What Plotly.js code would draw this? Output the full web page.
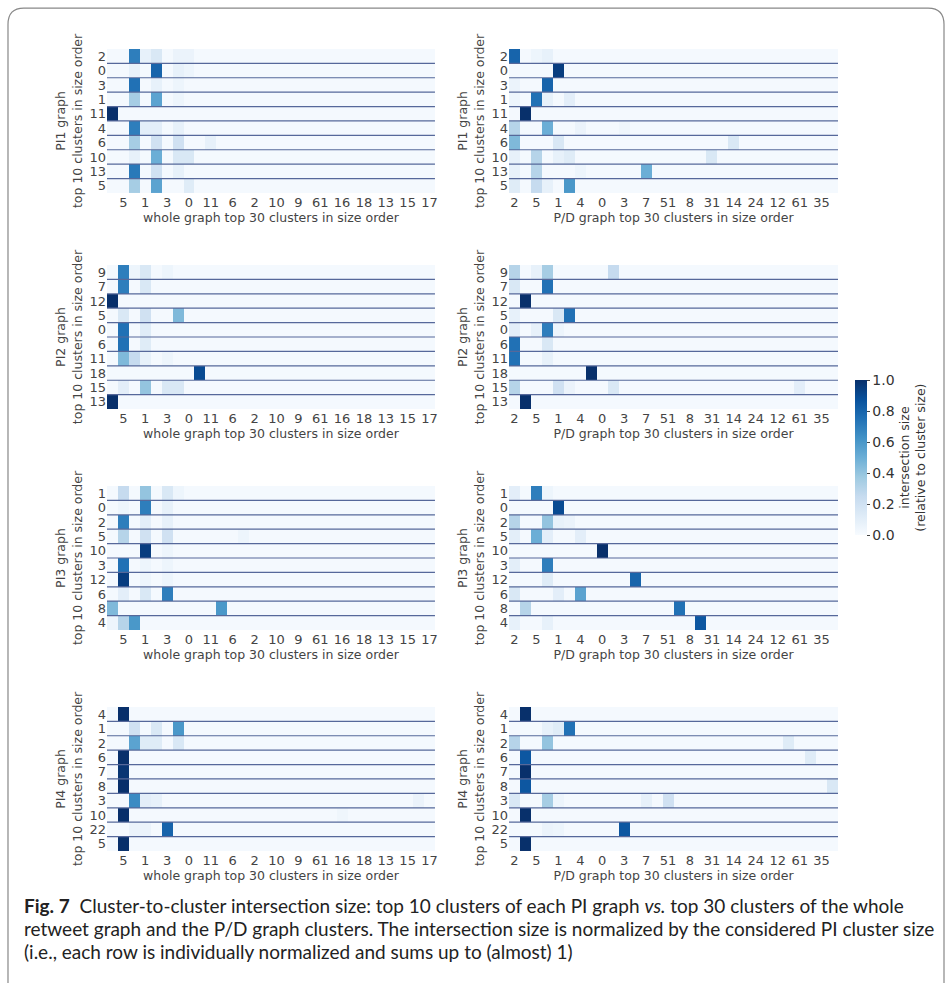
<!DOCTYPE html>
<html>
<head>
<meta charset="utf-8">
<script src="https://cdn.plot.ly/plotly-3.0.1.min.js"></script>
<style>body{margin:0;background:#fff}#fig{width:952px;height:983px}</style>
</head>
<body>
<div id="fig"></div>
<script>
// ── data ────────────────────────────────────────────────────────────────
// column labels (only every other one shown, as in the figure)
const wholeTicks = ['5','1','3','0','11','6','2','10','9','61','16','18','13','15','17'];
const pdTicks    = ['2','5','1','4','0','3','7','51','8','31','14','24','12','61','35'];

const pi1Rows = ['2','0','3','1','11','4','6','10','13','5'];
const pi2Rows = ['9','7','12','5','0','6','11','18','15','13'];
const pi3Rows = ['1','0','2','5','10','3','12','6','8','4'];
const pi4Rows = ['4','1','2','6','7','8','3','10','22','5'];

// each row: [column, value] pairs; other cells are a faint background
const pi1Whole = [
  [[2,.7],[3,.08],[4,.15],[6,.06],[7,.06]],
  [[2,.08],[4,.8],[6,.08],[7,.05]],
  [[2,.75],[4,.08],[6,.05]],
  [[2,.35],[4,.55],[6,.05]],
  [[0,1.0]],
  [[2,.7],[3,.1],[4,.1],[6,.08]],
  [[2,.35],[4,.2],[6,.2],[9,.08]],
  [[2,.08],[4,.5],[6,.15],[7,.15]],
  [[2,.72],[4,.2],[6,.08]],
  [[2,.35],[4,.55],[7,.12]]
];
const pi1PD = [
  [[0,.8],[2,.05],[3,.08]],
  [[4,.95]],
  [[0,.06],[3,.8]],
  [[0,.05],[2,.75],[3,.08],[5,.1]],
  [[1,1.0]],
  [[0,.3],[3,.5],[6,.06],[10,.04]],
  [[0,.45],[4,.15],[20,.15]],
  [[0,.08],[2,.3],[4,.08],[5,.12],[18,.15]],
  [[0,.08],[2,.3],[6,.05],[12,.5]],
  [[0,.12],[2,.25],[3,.08],[5,.6]]
];
const pi2Whole = [
  [[1,.7],[2,.05],[3,.15],[5,.05]],
  [[1,.7],[3,.15]],
  [[0,1.0]],
  [[1,.15],[3,.2],[6,.45]],
  [[1,.75],[3,.12]],
  [[1,.75],[3,.12]],
  [[1,.45],[2,.25],[3,.08],[5,.05]],
  [[8,.9]],
  [[1,.1],[3,.4],[5,.15],[6,.15]],
  [[0,1.0]]
];
const pi2PD = [
  [[0,.3],[2,.08],[3,.35],[9,.25]],
  [[0,.15],[3,.75]],
  [[1,1.0]],
  [[0,.08],[4,.15],[5,.75]],
  [[0,.1],[2,.08],[3,.7],[4,.05]],
  [[0,.75],[3,.15]],
  [[0,.75],[3,.08]],
  [[7,1.0]],
  [[0,.3],[4,.2],[5,.06],[9,.15],[26,.1]],
  [[1,1.0]]
];
const pi3Whole = [
  [[1,.25],[3,.4],[5,.15],[6,.05]],
  [[1,.05],[3,.7],[5,.08]],
  [[1,.7],[3,.1],[5,.08]],
  [[1,.3],[3,.2],[5,.2],[12,.05]],
  [[3,.95],[5,.05]],
  [[1,.75],[3,.05],[5,.05]],
  [[1,.95],[3,.05],[5,.05]],
  [[1,.1],[3,.15],[5,.7]],
  [[0,.45],[10,.6]],
  [[0,.05],[1,.3],[2,.6]]
];
const pi3PD = [
  [[0,.1],[2,.7],[3,.05]],
  [[4,.9]],
  [[0,.3],[3,.4],[4,.08],[5,.06]],
  [[0,.1],[2,.5],[3,.1],[6,.1]],
  [[8,1.0]],
  [[0,.1],[3,.7]],
  [[3,.12],[11,.8]],
  [[0,.15],[4,.1],[6,.55]],
  [[1,.3],[15,.75]],
  [[0,.08],[3,.08],[17,.85]]
];
const pi4Whole = [
  [[1,1.0]],
  [[2,.2],[4,.15],[6,.6]],
  [[2,.55],[3,.12],[4,.12],[6,.15]],
  [[1,1.0]],
  [[1,.98]],
  [[1,1.0]],
  [[2,.65],[3,.1],[4,.08],[28,.06]],
  [[1,1.0],[21,.04]],
  [[2,.06],[3,.06],[5,.8]],
  [[1,1.0]]
];
const pi4PD = [
  [[1,1.0]],
  [[3,.08],[4,.12],[5,.75]],
  [[0,.3],[3,.4],[25,.12]],
  [[1,.85],[27,.12]],
  [[1,1.0]],
  [[1,.85],[29,.15]],
  [[0,.15],[3,.35],[4,.05],[12,.08],[14,.2]],
  [[1,1.0]],
  [[3,.06],[4,.05],[10,.85]],
  [[1,1.0]]
];

// ── build figure ────────────────────────────────────────────────────────
const BLUES = [[0,'#f7fbff'],[.125,'#deebf7'],[.25,'#c6dbef'],[.375,'#9ecae1'],[.5,'#6baed6'],
               [.625,'#4292c6'],[.75,'#2171b5'],[.875,'#08519c'],[1,'#08306b']];
const NC = 30, BASE = 0.015;
const cols = Array.from({length:NC},(_,i)=>i);

function toMatrix(rows){
  return rows.map(r=>{ const z=new Array(NC).fill(BASE); r.forEach(([c,v])=>z[c]=v); return z; });
}

const panels = [
  {rows:pi1Rows, whole:pi1Whole, pd:pi1PD, name:'PI1', y:[.8037,.9502]},
  {rows:pi2Rows, whole:pi2Whole, pd:pi2PD, name:'PI2', y:[.5839,.7304]},
  {rows:pi3Rows, whole:pi3Whole, pd:pi3PD, name:'PI3', y:[.3591,.5056]},
  {rows:pi4Rows, whole:pi4Whole, pd:pi4PD, name:'PI4', y:[.1343,.2808]},
];
const XL=[.1124,.4569], XR=[.5347,.8803];
const font={family:'DejaVu Sans, sans-serif',size:12,color:'#333'};

const traces=[], shapes=[], layout={
  width:952,height:983,margin:{l:0,r:0,t:0,b:0},paper_bgcolor:'white',plot_bgcolor:'white',
  font:font,showlegend:false
};

let ax=1;
panels.forEach((p,pi)=>{
  [['whole',XL,wholeTicks,1,'whole graph top 30 clusters in size order'],
   ['pd',XR,pdTicks,0,'P/D graph top 30 clusters in size order']].forEach(([key,dom,ticks,off,xt])=>{
    const xa='x'+(ax===1?'':ax), ya='y'+(ax===1?'':ax);
    traces.push({type:'heatmap',x:cols,y:p.rows.map((_,i)=>i),z:toMatrix(p[key]),
      colorscale:BLUES,zmin:0,zmax:1,xaxis:xa,yaxis:ya,xgap:0,ygap:0,
      showscale:ax===4,
      colorbar:{x:.888,xanchor:'left',y:.4455,yanchor:'bottom',len:.178,lenmode:'fraction',
        thickness:12,outlinewidth:0,tickvals:[0,.2,.4,.6,.8,1],ticktext:['0.0','0.2','0.4','0.6','0.8','1.0'],
        ticks:'outside',ticklen:3,tickfont:{size:14,color:'#333'},
        title:{text:'intersection size<br>(relative to cluster size)',side:'right',font:{size:12.5,color:'#333'}}}});
    const k=ax===1?'':ax;
    layout['xaxis'+k]={domain:dom,anchor:ya,range:[-.5,29.5],showgrid:false,zeroline:false,
      tickvals:ticks.map((_,i)=>2*i+off),ticktext:ticks,ticks:'',tickfont:{size:13,color:'#444'},
      title:{text:xt,font:{size:12.5,color:'#444'},standoff:2},fixedrange:true};
    layout['yaxis'+k]={domain:p.y,anchor:xa,range:[9.5,-.5],showgrid:false,zeroline:false,
      tickvals:p.rows.map((_,i)=>i),ticktext:p.rows,ticks:'',tickfont:{size:13,color:'#444'},
      title:{text:p.name+' graph<br>top 10 clusters in size order',font:{size:12.5,color:'#444'},standoff:4}};
    for(let r=0;r<9;r++) shapes.push({type:'line',xref:xa,yref:ya,x0:-.5,x1:29.5,y0:r+.5,y1:r+.5,
      line:{color:'#56689a',width:1.2}});
    ax++;
  });
});

// rounded frame around the figure
shapes.push({type:'path',xref:'paper',yref:'paper',
  path:'M 0.0084 -0.01 L 0.0084 0.975 Q 0.0084 0.9918 0.025 0.9918 L 0.975 0.9918 Q 0.9916 0.9918 0.9916 0.975 L 0.9916 -0.01',
  line:{color:'#888',width:1.2}});
layout.shapes=shapes;

const cap={family:'Lato, sans-serif',size:19,color:'#222'};
layout.annotations=[
  '<b>Fig. 7</b>  Cluster-to-cluster intersection size: top 10 clusters of each PI graph <i>vs.</i> top 30 clusters of the whole',
  'retweet graph and the P/D graph clusters. The intersection size is normalized by the considered PI cluster size',
  '(i.e., each row is individually normalized and sums up to (almost) 1)'
].map((t,i)=>({text:t,xref:'paper',yref:'paper',x:22/952,y:1-(905+i*23)/983,xanchor:'left',yanchor:'middle',
  showarrow:false,font:cap,align:'left'}));

Plotly.newPlot('fig',traces,layout,{displayModeBar:false,staticPlot:true});
</script>
</body>
</html>
